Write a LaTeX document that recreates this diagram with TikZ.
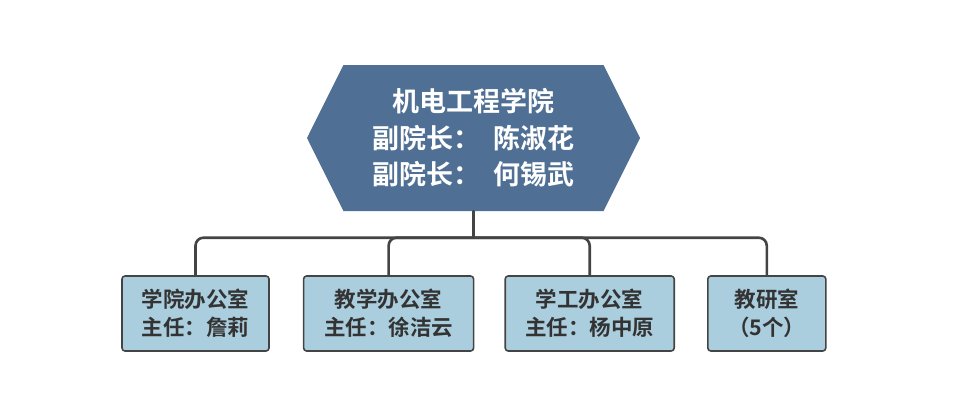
\documentclass[tikz,border=0pt]{standalone}
\usepackage{fontspec}
\usepackage{xcolor}
\setmainfont{Noto Sans CJK SC}[BoldFont={Noto Sans CJK SC Bold}]
\usetikzlibrary{arrows.meta,positioning,calc,shapes.symbols}
\definecolor{hexblue}{HTML}{4F7094}
\definecolor{boxblue}{HTML}{ABCEDE}
\definecolor{linegray}{HTML}{444444}
\definecolor{textgray}{HTML}{333333}

\begin{document}
\begin{tikzpicture}[line cap=round,line join=round,x=1pt,y=-1pt,
    dean/.style={signal,signal to=west and east,signal pointer angle=127,fill=hexblue,draw=none,
        minimum width=333pt,minimum height=146pt,inner sep=0pt,text=white,align=center,
        font=\fontsize{27}{36.5}\selectfont\bfseries},
    office/.style={draw=linegray,line width=1.6pt,fill=boxblue,rounded corners=3pt,
        minimum height=75pt,text=textgray,align=center,inner sep=0pt,
        font=\fontsize{21.5}{28}\selectfont\bfseries},
    link/.style={draw=linegray,line width=2.6pt,rounded corners=8pt}]
                \useasboundingbox (0,0) rectangle (960,404);
                \node[dean] (yuan) at (473.5,138) {机电工程学院\\副院长：\hspace{0.5em}陈淑花\\副院长：\hspace{0.5em}何锡武};
                \coordinate (bus) at ($(yuan.south)+(0,26.5)$);
                \node[office,minimum width=147pt] (xyb) at (195.5,313.5) {学院办公室\\主任：詹莉};
                \node[office,minimum width=170pt,right=33pt of xyb] (jxb) {教学办公室\\主任：徐洁云};
                \node[office,minimum width=169pt,right=30pt of jxb] (xgb) {学工办公室\\主任：杨中原};
                \node[office,minimum width=118pt,right=32pt of xgb] (jys) {教研室\\（5个）};
                \draw[link] (yuan.south) -- (bus);
                \foreach \n in {xyb,jxb,xgb,jys}
                    \draw[link] (bus) -| (\n.north);
\end{tikzpicture}
\end{document}
